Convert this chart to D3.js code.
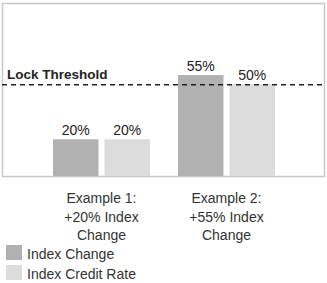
<!DOCTYPE html>
<html>
<head>
<meta charset="utf-8">
<script src="https://cdn.jsdelivr.net/npm/d3@7"></script>
<style>
  body { margin: 0; background: #fff; }
  svg { display: block; }
</style>
</head>
<body>
<div id="chart"></div>
<script>
// chart data
const categories = ['Example 1:|+20% Index|Change', 'Example 2:|+55% Index|Change'];
const seriesNames = ['Index Change', 'Index Credit Rate'];
const indexChange = [20, 55];
const indexCreditRate = [20, 50];
const lockThreshold = 50;
const thresholdLabel = 'Lock Threshold';

const colors = ['#b1b1b1', '#dcdcdd'];
const width = 327;
const height = 283;
const plot = { left: 2, right: 325, top: 3, bottom: 176 };
const labelFont = 'Liberation Sans, Arial, sans-serif';

const svg = d3.select('#chart')
    .append('svg')
    .attr('width', width)
    .attr('height', height);

// band scale per category, then per series
const x = d3.scaleBand()
    .domain(categories)
    .range([53, 275])
    .paddingInner(0.224)
    .paddingOuter(0);

const xInner = d3.scaleBand()
    .domain(seriesNames)
    .range([0, x.bandwidth()])
    .paddingInner(0.117);

const y = d3.scaleLinear()
    .domain([0, 55])
    .range([plot.bottom, 75]);

const data = categories.map((c, i) => ({
    cat: c,
    values: [
        { name: seriesNames[0], value: indexChange[i] },
        { name: seriesNames[1], value: indexCreditRate[i] }
    ]
}));

// plot frame
svg.append('rect')
    .attr('x', plot.left + 0.5)
    .attr('y', plot.top + 0.5)
    .attr('width', plot.right - plot.left - 1)
    .attr('height', plot.bottom - plot.top)
    .attr('fill', 'none')
    .attr('stroke', '#c8c8c8')
    .attr('stroke-width', 1.5);

const groups = svg.selectAll('g.cat')
    .data(data)
    .enter()
    .append('g')
    .attr('class', 'cat')
    .attr('transform', d => `translate(${x(d.cat)},0)`);

groups.selectAll('rect')
    .data(d => d.values)
    .enter()
    .append('rect')
    .attr('x', d => xInner(d.name))
    .attr('y', d => y(d.value))
    .attr('width', xInner.bandwidth())
    .attr('height', d => y(0) - y(d.value))
    .attr('fill', (d, i) => colors[i]);

groups.selectAll('text.val')
    .data(d => d.values)
    .enter()
    .append('text')
    .attr('class', 'val')
    .attr('x', d => xInner(d.name) + xInner.bandwidth() / 2)
    .attr('y', d => y(d.value) - 4)
    .attr('text-anchor', 'middle')
    .attr('font-family', labelFont)
    .attr('font-size', 14)
    .attr('fill', '#222')
    .text(d => d.value + '%');

// threshold line
svg.append('line')
    .attr('x1', plot.left)
    .attr('x2', plot.right)
    .attr('y1', y(lockThreshold) + 0.5)
    .attr('y2', y(lockThreshold) + 0.5)
    .attr('stroke', '#222')
    .attr('stroke-width', 1.5)
    .attr('stroke-dasharray', '5,4');

svg.append('text')
    .attr('x', 7)
    .attr('y', y(lockThreshold) - 5.5)
    .attr('font-family', labelFont)
    .attr('font-weight', 'bold')
    .attr('font-size', 13.5)
    .attr('fill', '#222')
    .text(thresholdLabel);

// category labels under the frame
const catLabels = svg.selectAll('text.cat')
    .data(categories)
    .enter()
    .append('text')
    .attr('class', 'cat')
    .attr('x', d => x(d) + x.bandwidth() / 2)
    .attr('y', 203)
    .attr('text-anchor', 'middle')
    .attr('font-family', labelFont)
    .attr('font-size', 14)
    .attr('fill', '#333');

catLabels.selectAll('tspan')
    .data(d => d.split('|'))
    .enter()
    .append('tspan')
    .attr('x', function () { return d3.select(this.parentNode).attr('x'); })
    .attr('dy', (d, i) => i === 0 ? 0 : 18.5)
    .text(d => d);

// legend
const legend = svg.selectAll('g.legend')
    .data(seriesNames)
    .enter()
    .append('g')
    .attr('class', 'legend')
    .attr('transform', (d, i) => `translate(6,${245 + i * 20})`);

legend.append('rect')
    .attr('width', 16)
    .attr('height', 15)
    .attr('fill', (d, i) => colors[i]);

legend.append('text')
    .attr('x', 21)
    .attr('y', 14)
    .attr('font-family', labelFont)
    .attr('font-size', 14)
    .attr('fill', '#333')
    .text(d => d);
</script>
</body>
</html>
